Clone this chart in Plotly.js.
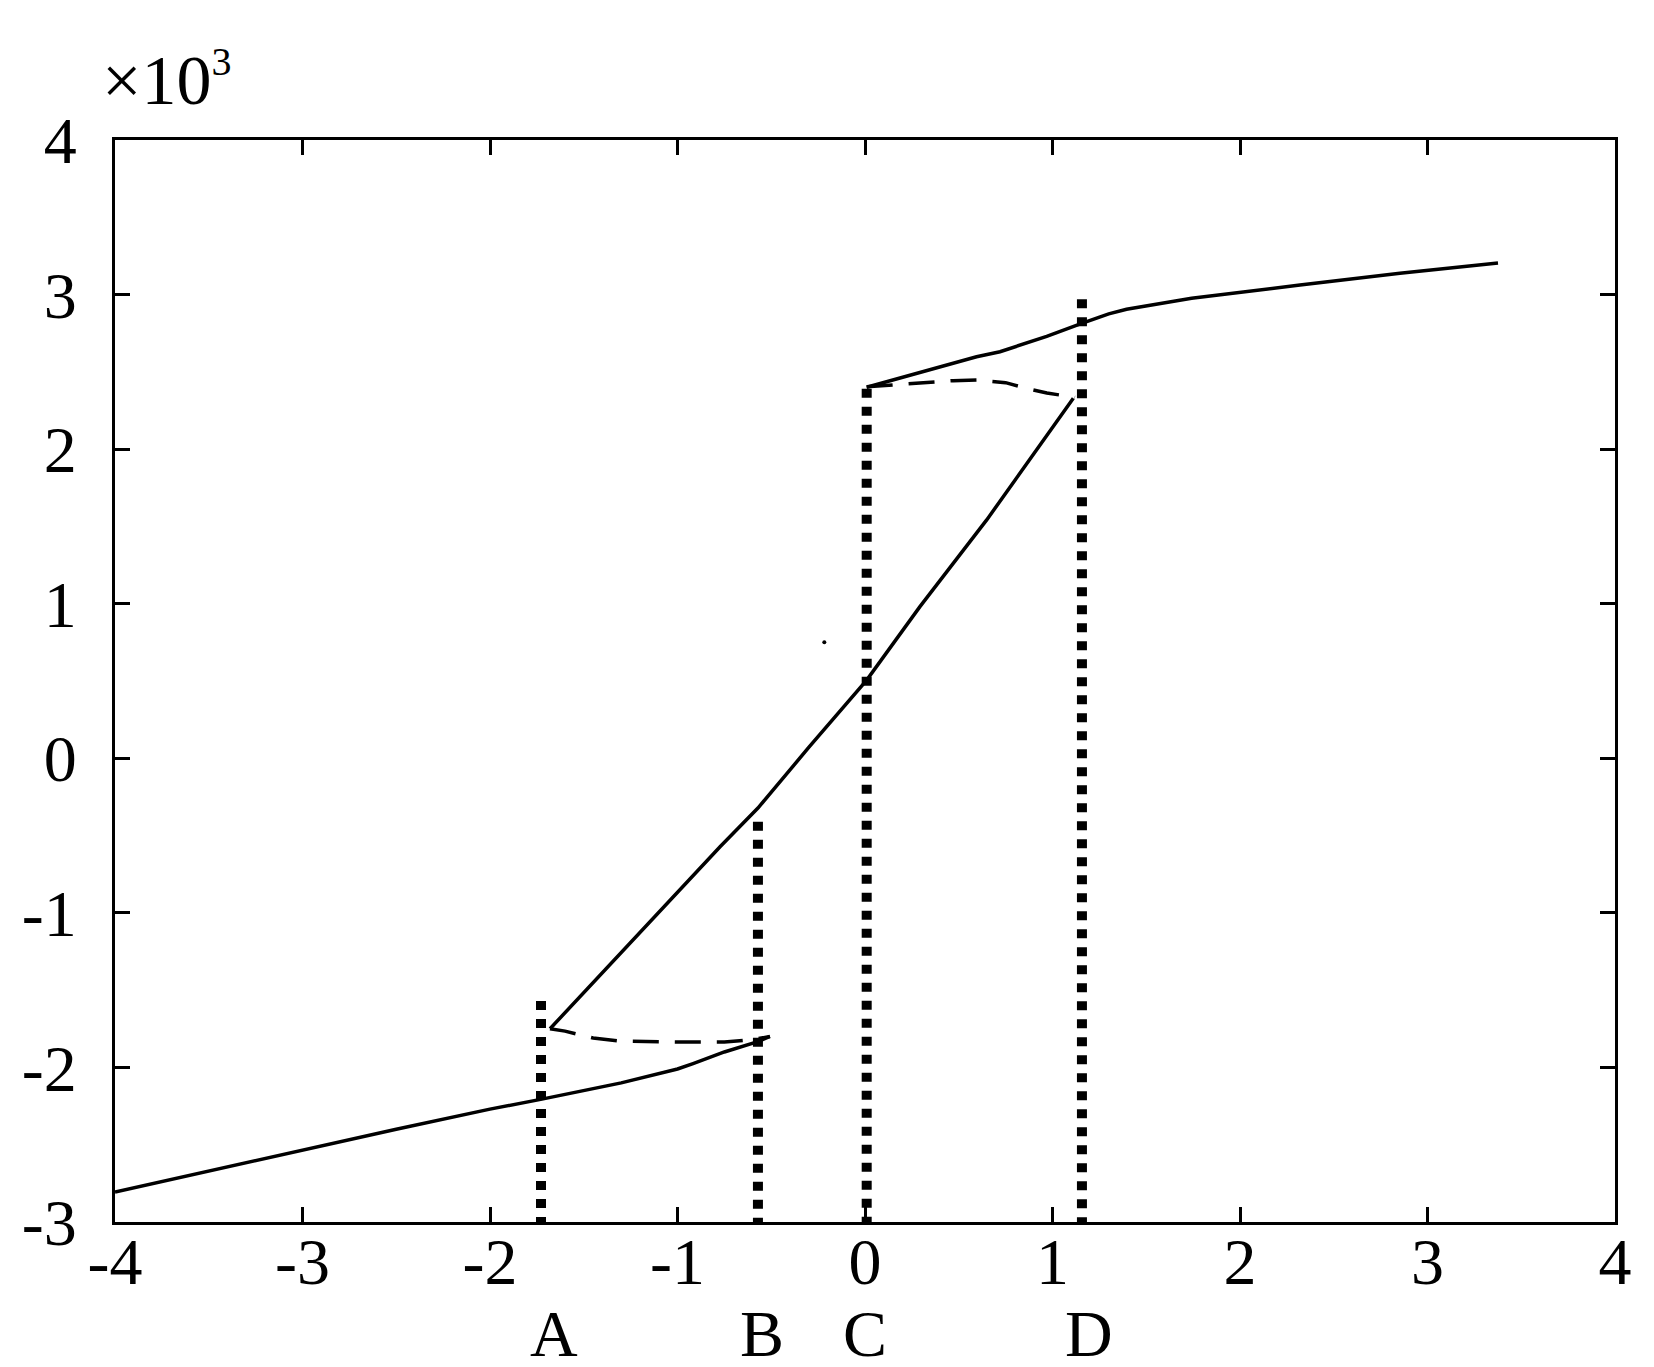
<!DOCTYPE html>
<html>
<head>
<meta charset="utf-8">
<script src="https://cdn.plot.ly/plotly-3.0.1.min.js"></script>
<style>html,body{margin:0;padding:0;background:#fff;}</style>
</head>
<body>
<div id="chart" style="width:1654px;height:1367px;"></div>
<script>
// Lower branch (solid)
const lowerX = [-4, -3.5, -3, -2.5, -2, -1.723, -1.3, -1.0, -0.917, -0.75, -0.576, -0.507];
const lowerY = [-2.806, -2.67, -2.534, -2.40, -2.27, -2.205, -2.10, -2.01, -1.975, -1.90, -1.835, -1.80];
// Middle rising branch (solid)
const midX = [-1.68, -1.2, -0.773, -0.571, -0.3, 0.009, 0.293, 0.649, 1.111];
const midY = [-1.75, -1.13, -0.572, -0.322, 0.07, 0.506, 0.981, 1.542, 2.329];
// Upper branch (solid)
const upperX = [0.009, 0.3, 0.595, 0.72, 0.969, 1.156, 1.3, 1.395, 1.742, 2.32, 2.853, 3.376];
const upperY = [2.40, 2.50, 2.598, 2.63, 2.73, 2.814, 2.875, 2.905, 2.976, 3.062, 3.138, 3.204];
// Lower transition (dashed)
const lowDashX = [-1.68, -1.6, -1.45, -1.3, -1.0, -0.75, -0.6, -0.507];
const lowDashY = [-1.75, -1.765, -1.81, -1.83, -1.835, -1.835, -1.82, -1.80];
// Upper transition (dashed)
const upDashX = [0.009, 0.15, 0.293, 0.47, 0.6, 0.75, 0.87, 0.97, 1.12];
const upDashY = [2.404, 2.415, 2.43, 2.443, 2.447, 2.43, 2.39, 2.363, 2.335];
// Vertical dotted markers A, B, C, D
const markX = [-1.728, -0.571, 0.009, 1.157];
const markTop = [-1.57, -0.41, 2.39, 2.97];
const markBottom = [-3.1, -3.1, -3.1, -3.1];
// Point labels
const labelNames = ['A', 'B', 'C', 'D'];
const labelX = [-1.659, -0.549, 0.0, 1.195];
// Stray dot
const dotX = [-0.217];
const dotY = [0.75];
// Ticks
const xTickVals = [-4, -3, -2, -1, 0, 1, 2, 3, 4];
const xTickText = ['-4', '-3', '-2', '-1', '0', '1', '2', '3', '4'];
const yTickVals = [-3, -2, -1, 0, 1, 2, 3, 4];
const yTickText = ['-3', '-2', '-1', '0', '1', '2', '3', '4'];

const FONT = '"Liberation Serif", serif';
const solid = {color: '#000', width: 3.5};
const dashed = {color: '#000', width: 3.5, dash: '26px,16px'};
const dotted = {color: '#000', width: 10, dash: '9px,9px'};

const traces = [];
traces.push({x: lowerX, y: lowerY, mode: 'lines', line: solid, hoverinfo: 'skip'});
traces.push({x: midX, y: midY, mode: 'lines', line: solid, hoverinfo: 'skip'});
traces.push({x: upperX, y: upperY, mode: 'lines', line: solid, hoverinfo: 'skip'});
traces.push({x: lowDashX, y: lowDashY, mode: 'lines', line: dashed, hoverinfo: 'skip'});
traces.push({x: upDashX, y: upDashY, mode: 'lines', line: dashed, hoverinfo: 'skip'});
for (let i = 0; i < markX.length; i++) {
  // drawn from top to bottom so the dot pattern starts at the top end
  traces.push({x: [markX[i], markX[i]], y: [markTop[i], markBottom[i]], mode: 'lines', line: dotted, hoverinfo: 'skip'});
}
traces.push({x: dotX, y: dotY, mode: 'markers', marker: {color: '#000', size: 4}, hoverinfo: 'skip'});

const annotations = labelNames.map((t, i) => ({
  text: t, x: labelX[i], xref: 'x', y: -0.1035, yref: 'paper',
  showarrow: false, xanchor: 'center', yanchor: 'middle',
  font: {family: FONT, size: 66, color: '#000'}
}));
annotations.push({
  text: '×10<sup><span style="font-size:40px">3</span></sup>', x: -0.01, xref: 'paper', y: 1.056, yref: 'paper',
  showarrow: false, xanchor: 'left', yanchor: 'middle',
  font: {family: FONT, size: 70, color: '#000'}
});

const axisCommon = {
  showline: true, linewidth: 3, linecolor: '#000', mirror: 'ticks',
  ticks: 'inside', ticklen: 15, tickwidth: 3, tickcolor: '#000',
  showgrid: false, zeroline: false,
  tickfont: {family: FONT, size: 66, color: '#000'},
  tickmode: 'array'
};

const layout = {
  width: 1654, height: 1367,
  margin: {l: 115, r: 39, t: 140, b: 145},
  paper_bgcolor: '#fff', plot_bgcolor: '#fff',
  showlegend: false,
  xaxis: Object.assign({}, axisCommon, {range: [-4, 4], tickvals: xTickVals, ticktext: xTickText, ticklabelstandoff: -20}),
  yaxis: Object.assign({}, axisCommon, {range: [-3, 4], tickvals: yTickVals, ticktext: yTickText, ticklabelstandoff: 22}),
  annotations: annotations
};

Plotly.newPlot('chart', traces, layout, {staticPlot: true});
</script>
</body>
</html>
